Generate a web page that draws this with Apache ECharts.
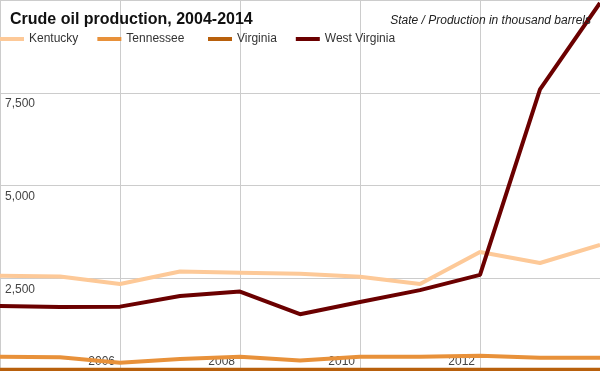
<!DOCTYPE html>
<html>
<head>
<meta charset="utf-8">
<script src="https://cdn.jsdelivr.net/npm/echarts@6/dist/echarts.min.js"></script>
<style>html,body{margin:0;padding:0;background:#fff}#c{width:600px;height:371px}</style>
</head>
<body>
<div id="c"></div>
<script>
const years = [2004, 2005, 2006, 2007, 2008, 2009, 2010, 2011, 2012, 2013, 2014];
const kentucky = [2570, 2550, 2345, 2680, 2650, 2620, 2540, 2345, 3210, 2910, 3400];
const tennessee = [385, 370, 225, 323, 385, 280, 385, 385, 410, 360, 358];
const virginia = [35, 35, 35, 35, 35, 35, 35, 35, 35, 35, 35];
const westVirginia = [1750, 1725, 1735, 2020, 2140, 1530, 1860, 2180, 2590, 7590, 9920];
const seriesNames = ['Kentucky', 'Tennessee', 'Virginia', 'West Virginia'];
const colors = ['#fdc998', '#e8913a', '#b8600c', '#6b0000'];
const yTicks = [0, 2500, 5000, 7500, 10000];

const pairs = arr => years.map((y, i) => [y, arr[i]]);
const chart = echarts.init(document.getElementById('c'), null, {renderer: 'canvas'});
const font = 'Liberation Sans, Arial, sans-serif';
const legendBase = {
  top: 33, padding: 0,
  icon: 'rect', itemWidth: 24, itemHeight: 4, itemGap: 19,
  textStyle: {fontFamily: font, fontSize: 12, color: '#333'}
};
chart.setOption({
  animation: false,
  color: colors,
  title: [{
    text: 'Crude oil production, 2004-2014',
    left: 10, top: 12, padding: 0,
    textStyle: {fontFamily: font, fontSize: 16, fontWeight: 'bold', color: '#111'}
  }, {
    text: 'State / Production in thousand barrels',
    right: 9, top: 15, padding: 0,
    textStyle: {fontFamily: font, fontSize: 12, fontStyle: 'italic', fontWeight: 'normal', color: '#222'}
  }],
  legend: [
    Object.assign({left: 0, data: seriesNames.slice(0, 2)}, legendBase),
    Object.assign({left: 208, data: seriesNames.slice(2)}, legendBase)
  ],
  grid: {left: 0, right: 0, top: 0, bottom: 0, containLabel: false},
  xAxis: {
    type: 'value', min: 2004, max: 2014, interval: 2,
    axisLine: {show: false}, axisTick: {show: false},
    splitLine: {show: true, lineStyle: {color: '#cccccc', width: 1}},
    axisLabel: {
      inside: true, showMinLabel: false, showMaxLabel: false,
      align: 'right', verticalAlign: 'middle', margin: 9, padding: [0, 5, 0, 0],
      fontFamily: font, fontSize: 12, color: '#444',
      formatter: v => String(v)
    }
  },
  yAxis: {
    type: 'value', min: yTicks[0], max: yTicks[yTicks.length - 1], interval: 2500,
    axisLine: {show: false}, axisTick: {show: false},
    splitLine: {show: true, lineStyle: {color: '#cccccc', width: 1}},
    axisLabel: {
      inside: true, showMinLabel: false, showMaxLabel: false,
      align: 'left', verticalAlign: 'top', margin: 5, padding: [5, 0, 0, 0],
      fontFamily: font, fontSize: 12, color: '#444',
      formatter: v => v.toLocaleString('en-US')
    }
  },
  series: [
    {name: seriesNames[0], type: 'line', data: pairs(kentucky)},
    {name: seriesNames[1], type: 'line', data: pairs(tennessee)},
    {name: seriesNames[2], type: 'line', data: pairs(virginia)},
    {name: seriesNames[3], type: 'line', data: pairs(westVirginia)}
  ].map(s => Object.assign(s, {showSymbol: false, symbol: 'none', lineStyle: {width: 4}, clip: true}))
});
</script>
</body>
</html>
